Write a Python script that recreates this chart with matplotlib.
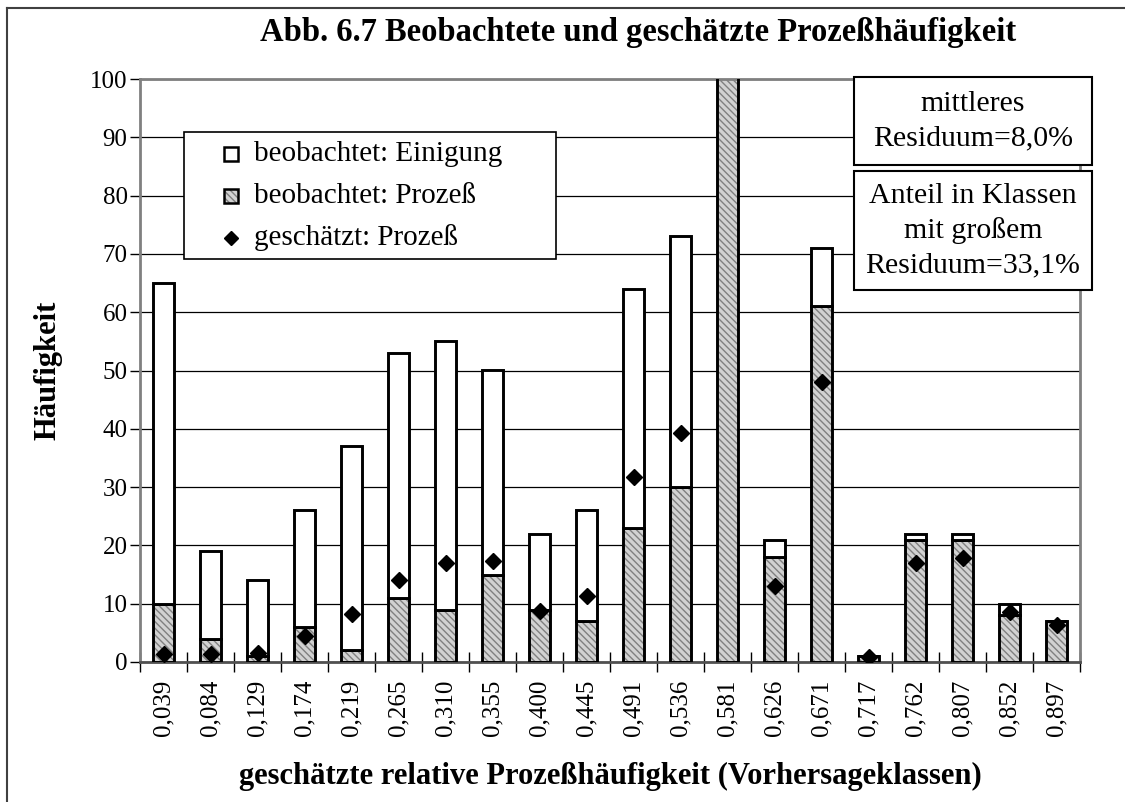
import matplotlib
matplotlib.use("Agg")
import matplotlib.pyplot as plt
from matplotlib.patches import Rectangle
from matplotlib.lines import Line2D
import numpy as np

plt.rcParams["font.family"] = "Liberation Serif"

# Vorhersageklassen (x-Achse)
klassen = ["0,039", "0,084", "0,129", "0,174", "0,219", "0,265", "0,310",
           "0,355", "0,400", "0,445", "0,491", "0,536", "0,581", "0,626",
           "0,671", "0,717", "0,762", "0,807", "0,852", "0,897"]
# beobachtet: Prozeß (schraffiert, unten)
beob_prozess = [10, 4, 1, 6, 2, 11, 9, 15, 9, 7, 23, 30, 180, 18, 61, 1, 21, 21, 8, 7]
# beobachtet: Einigung (weiß, oben)
beob_einigung = [55, 15, 13, 20, 35, 42, 46, 35, 13, 19, 41, 43, 0, 3, 10, 0, 1, 1, 2, 0]
# geschätzt: Prozeß (Rauten)
gesch_prozess = [1.4, 1.4, 1.6, 4.5, 8.2, 14.0, 17.0, 17.4, 8.8, 11.4,
                 31.8, 39.2, 105, 13.1, 48.0, 0.8, 16.9, 17.8, 8.5, 6.3]

W, H = 1125, 802
HATCH_FC = "#d2d2d2"
HATCH_LC = "#808080"
HATCH = "\\\\\\\\\\"


def fx(px):
    return px / W


def fy(py):
    return 1 - py / H


fig = plt.figure(figsize=(W / 100, H / 100), dpi=100)
ax = fig.add_axes([fx(140), fy(662), fx(1080) - fx(140), fy(79) - fy(662)])

x = np.arange(len(klassen))
bw = 0.45

# schraffierter Teil: Füllung + Schraffur, dann schwarzer Rand
ax.bar(x, beob_prozess, width=bw, color=HATCH_FC, edgecolor=HATCH_LC,
       linewidth=0, hatch=HATCH, zorder=2)
ax.bar(x, beob_prozess, width=bw, facecolor="none", edgecolor="black",
       linewidth=2.1, zorder=3)
ax.bar(x, beob_einigung, width=bw, bottom=beob_prozess, color="white",
       edgecolor="black", linewidth=2.1, zorder=3)
ax.plot(x, gesch_prozess, linestyle="none", marker="D", markersize=8,
        color="black", zorder=4)

ax.set_ylim(0, 100)
ax.set_xlim(-0.5, len(klassen) - 0.5)
ax.set_yticks(range(0, 101, 10))
ax.tick_params(axis="y", labelsize=18, length=7, width=1, direction="out", pad=2)
ax.set_xticks(x)
ax.set_xticklabels(klassen, rotation=90, fontsize=18)
ax.set_xticks(np.arange(-0.5, len(klassen)), minor=True)
ax.tick_params(axis="x", which="major", length=0, pad=13)
ax.tick_params(axis="x", which="minor", length=14, width=1, direction="inout")

ax.yaxis.grid(True, color="black", linewidth=0.9)
ax.set_axisbelow(True)
for side in ["left", "top", "right"]:
    ax.spines[side].set_color("#808080")
    ax.spines[side].set_linewidth(2)
ax.spines["bottom"].set_color("#505050")
ax.spines["bottom"].set_linewidth(2)

ax.set_xlabel("geschätzte relative Prozeßhäufigkeit (Vorhersageklassen)",
              fontsize=22, fontweight="bold", va="center")
ax.xaxis.set_label_coords(0.5, (662 - 776) / 583)
ax.set_ylabel("Häufigkeit", fontsize=22, fontweight="bold", va="center")
ax.yaxis.set_label_coords((48 - 140) / 940, 0.5)

fig.text(fx(638), fy(33), "Abb. 6.7 Beobachtete und geschätzte Prozeßhäufigkeit",
         fontsize=23.5, fontweight="bold", ha="center", va="center")

# äußerer Rahmen
fig.add_artist(Line2D([fx(7), fx(7)], [0, fy(8)], color="#404040", linewidth=1.5))
fig.add_artist(Line2D([fx(7), 1], [fy(8), fy(8)], color="#404040", linewidth=1.5))

# Legende
fig.add_artist(Rectangle((fx(184), fy(259)), fx(556) - fx(184), fy(132) - fy(259),
                         facecolor="white", edgecolor="black", linewidth=1.2,
                         zorder=5))
rows = [154, 196, 238]
sq = 14
sx = 224
fig.add_artist(Rectangle((fx(sx), fy(rows[0] + sq / 2)), fx(sq), sq / H,
                         facecolor="white", edgecolor="black", linewidth=1.8,
                         zorder=6))
fig.add_artist(Rectangle((fx(sx), fy(rows[1] + sq / 2)), fx(sq), sq / H,
                         facecolor=HATCH_FC, edgecolor=HATCH_LC, linewidth=0,
                         hatch=HATCH, zorder=6))
fig.add_artist(Rectangle((fx(sx), fy(rows[1] + sq / 2)), fx(sq), sq / H,
                         facecolor="none", edgecolor="black", linewidth=1.8,
                         zorder=6))
fig.add_artist(Line2D([fx(sx + sq / 2)], [fy(rows[2])], marker="D", markersize=7,
                      color="black", linestyle="none", zorder=6))
legend_labels = ["beobachtet: Einigung", "beobachtet: Prozeß", "geschätzt: Prozeß"]
for row, lab in zip(rows, legend_labels):
    fig.text(fx(254), fy(row), lab, fontsize=21, ha="left", va="center", zorder=7)

# Textfelder rechts oben
for (top, bottom), txt in zip([(77, 165), (171, 290)],
                              ["mittleres\nResiduum=8,0%",
                               "Anteil in Klassen\nmit großem\nResiduum=33,1%"]):
    fig.add_artist(Rectangle((fx(854), fy(bottom)), fx(1092) - fx(854),
                             fy(top) - fy(bottom), facecolor="white",
                             edgecolor="black", linewidth=1.5, zorder=5))
    fig.text(fx(973), fy((top + bottom) / 2), txt, fontsize=21.5, ha="center",
             va="center", linespacing=1.4, zorder=6)

fig.savefig("out.png", dpi=100)
